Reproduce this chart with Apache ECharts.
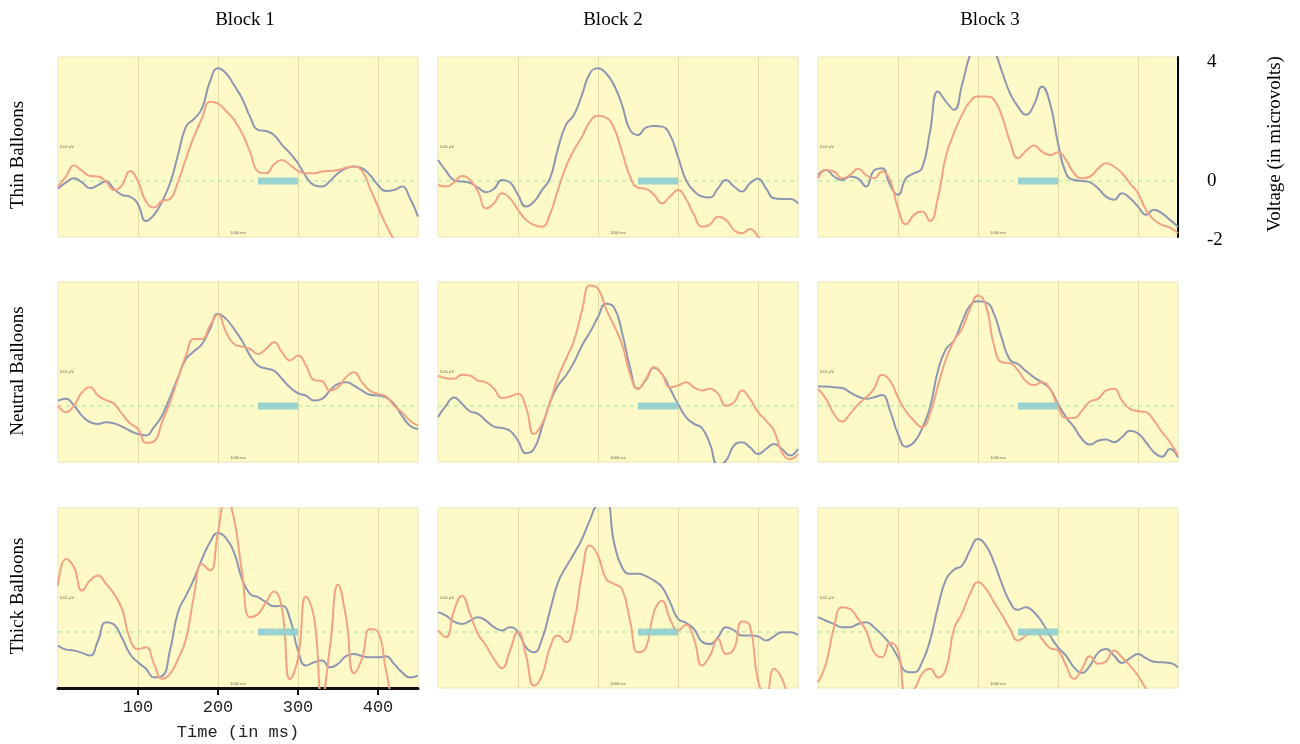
<!DOCTYPE html>
<html>
<head>
<meta charset="utf-8">
<script src="https://cdn.jsdelivr.net/npm/echarts@6/dist/echarts.min.js"></script>
<style>
  html, body { margin: 0; padding: 0; background: #ffffff; }
  #chart { width: 1300px; height: 744px; }
</style>
</head>
<body>
<div id="chart"></div>
<script>
// ---- data -----------------------------------------------------------------
const TIME_MS = [0,10,20,30,40,50,60,70,80,90,100,110,120,130,140,150,160,170,180,190,
                 200,210,220,230,240,250,260,270,280,290,300,310,320,330,340,350,360,370,380,390,
                 400,410,420,430,440,450];
const BLOCKS = ['Block 1', 'Block 2', 'Block 3'];
const CONDITIONS = ['Thin Balloons', 'Neutral Balloons', 'Thick Balloons'];
const X_TICKS = [100, 200, 300, 400];
const VOLT_TICKS = [4, 0, -2];
const TIME_RANGE = [0, 450];
const BASELINE_UV = 0;
const WINDOW_MS = [250, 300];
const SCALE_NOTE = '5.00 µV';
const TIME_NOTE = '1000 ms';

// waveforms, microvolts, sampled every 10 ms
const thin1Gray = [-0.27,-0.05,0.09,-0.05,-0.25,-0.14,-0.02,-0.27,-0.47,-0.53,-0.79,-1.36,-1.15,-0.70,-0.08,0.88,1.84,2.10,2.46,3.37,3.82,3.65,3.25,2.80,2.18,1.73,1.69,1.56,1.22,0.94,0.60,0.15,-0.14,-0.19,0.00,0.26,0.43,0.49,0.43,0.20,-0.14,-0.34,-0.31,-0.19,-0.59,-1.21];
const thin1Red  = [-0.19,0.15,0.52,0.34,0.17,0.15,-0.02,-0.31,-0.14,0.34,-0.02,-0.70,-0.90,-0.68,-0.61,-0.03,0.76,1.51,2.12,2.68,2.62,2.37,2.07,1.62,0.99,0.32,0.26,0.56,0.71,0.54,0.34,0.26,0.26,0.32,0.34,0.37,0.45,0.49,0.34,-0.25,-0.87,-1.49,-2.00,-2.50,-3.00,-3.50];
const thin2Gray = [0.71,0.34,0.03,-0.02,-0.06,-0.23,-0.38,-0.27,0.03,-0.05,-0.47,-0.87,-0.70,-0.31,0.09,1.10,1.90,2.24,2.92,3.65,3.82,3.65,3.25,2.58,1.73,1.56,1.81,1.86,1.84,1.56,0.82,0.03,-0.34,-0.53,-0.56,-0.25,0.03,-0.19,-0.36,-0.08,0.07,-0.25,-0.59,-0.61,-0.61,-0.76];
const thin2Red  = [-0.14,-0.19,-0.05,0.17,0.03,-0.36,-0.93,-0.76,-0.42,-0.59,-0.98,-1.32,-1.49,-1.55,-1.12,-0.30,0.49,1.05,1.50,2.01,2.21,2.15,1.79,0.99,0.15,-0.23,-0.27,-0.47,-0.76,-0.53,-0.31,-0.61,-1.15,-1.55,-1.47,-1.21,-1.32,-1.66,-1.77,-1.63,-1.89,-2.30,-2.80,-3.20,-3.50,-3.70];
const thin3Gray = [0.20,0.37,0.15,0.03,0.15,0.09,-0.19,0.35,0.43,-0.14,-0.47,0.09,0.26,0.43,1.67,3.03,2.69,2.41,3.25,4.27,4.80,4.60,4.40,3.70,2.97,2.52,2.24,2.58,3.20,2.63,1.28,0.26,0.03,0.00,-0.05,-0.25,-0.53,-0.64,-0.42,-0.59,-0.87,-1.15,-0.98,-1.10,-1.32,-1.55];
const thin3Red  = [0.09,0.37,0.32,0.09,0.20,0.41,0.20,0.09,0.32,0.03,-0.93,-1.47,-1.15,-1.04,-1.36,-0.55,0.85,1.62,2.24,2.69,2.86,2.86,2.75,2.18,1.33,0.77,1.02,1.20,0.99,0.88,0.97,0.71,0.26,0.09,0.15,0.41,0.60,0.49,0.26,-0.08,-0.42,-0.98,-1.32,-1.49,-1.58,-1.77];

const neutral1Gray = [0.18,0.24,0.01,-0.33,-0.55,-0.61,-0.55,-0.59,-0.70,-0.84,-0.95,-1.00,-0.72,-0.33,0.29,0.97,1.59,1.85,2.10,2.61,3.12,2.95,2.61,2.21,1.71,1.37,1.27,1.20,0.92,0.63,0.43,0.35,0.18,0.24,0.52,0.75,0.80,0.69,0.52,0.38,0.35,0.29,0.07,-0.33,-0.67,-0.78];
const neutral1Red  = [0.01,-0.21,0.01,0.46,0.63,0.35,0.20,0.07,-0.27,-0.59,-0.78,-1.25,-1.20,-0.55,0.12,0.92,1.71,2.27,2.27,2.72,3.10,2.50,2.10,2.01,1.93,1.76,1.93,2.16,1.82,1.54,1.71,1.37,0.88,0.84,0.52,0.63,0.97,1.14,0.80,0.52,0.41,0.32,0.01,-0.21,-0.50,-0.67];
const neutral2Gray = [-0.38,0.01,0.29,0.07,-0.18,-0.27,-0.50,-0.70,-0.75,-0.84,-1.18,-1.60,-1.46,-0.72,0.12,0.69,1.03,1.48,2.05,2.50,3.01,3.46,3.34,2.50,1.31,0.58,0.88,1.29,1.08,0.58,0.07,-0.38,-0.61,-0.75,-1.29,-2.00,-1.85,-1.34,-1.23,-1.40,-1.63,-1.46,-1.29,-1.46,-1.68,-1.46];
const neutral2Red  = [1.03,0.94,0.92,1.06,1.03,0.86,0.80,0.58,0.27,0.32,0.41,-0.05,-0.95,-0.61,0.12,0.97,1.59,2.21,3.23,4.08,3.97,3.29,2.72,2.10,1.08,0.58,0.92,1.31,1.08,0.63,0.69,0.80,0.63,0.52,0.58,0.41,0.01,0.12,0.52,0.24,-0.21,-0.50,-0.84,-1.57,-1.80,-1.63];
const neutral3Gray = [0.66,0.66,0.63,0.61,0.46,0.32,0.24,0.29,0.37,-0.16,-0.95,-1.38,-1.23,-0.78,-0.05,1.20,1.93,2.21,2.84,3.40,3.55,3.51,3.12,2.27,1.56,1.42,1.18,0.97,0.80,0.58,0.07,-0.38,-0.72,-1.12,-1.31,-1.18,-1.14,-1.23,-1.06,-0.84,-0.93,-1.23,-1.57,-1.72,-1.46,-1.74];
const neutral3Red  = [0.58,0.24,-0.27,-0.53,-0.27,0.05,0.29,0.58,1.06,0.86,0.29,-0.18,-0.50,-0.72,-0.27,0.69,1.59,2.21,2.61,3.29,3.74,3.40,2.05,1.48,1.45,1.20,0.84,0.71,0.80,0.58,-0.02,-0.41,-0.41,-0.16,0.15,0.24,0.52,0.58,0.18,-0.10,-0.18,-0.21,-0.50,-0.89,-1.23,-1.68];

const thick1Gray = [-0.46,-0.60,-0.63,-0.71,-0.80,-0.30,0.33,0.25,-0.20,-0.75,-1.03,-1.25,-1.54,-1.50,-0.63,0.67,1.23,1.80,2.47,3.04,3.35,3.18,2.70,1.80,1.29,1.18,1.01,0.87,0.89,0.44,-0.63,-1.14,-1.03,-0.97,-1.20,-1.08,-0.82,-0.75,-0.82,-0.86,-0.86,-0.82,-1.08,-1.37,-1.54,-1.48];
const thick1Red  = [1.57,2.47,2.19,1.40,1.74,1.91,1.63,1.29,0.78,-0.24,-0.58,-0.52,-1.08,-1.59,-1.42,-0.92,-0.24,1.23,2.30,2.08,3.38,4.62,3.83,2.02,0.50,0.61,1.01,1.37,0.78,-1.60,-0.90,1.20,0.50,-2.20,-0.50,1.60,0.50,-1.40,-0.90,0.10,0.00,-1.30,-2.50,-3.00,-3.20,-3.20];
const thick2Gray = [0.67,0.55,0.35,0.27,0.38,0.50,0.38,0.16,0.05,0.16,-0.01,-0.52,-0.69,-0.24,0.72,1.68,2.20,2.65,3.15,3.80,4.33,4.40,3.04,2.19,1.97,1.97,1.89,1.74,1.52,1.01,0.44,0.31,0.10,-0.33,-0.41,-0.18,0.16,0.05,-0.12,-0.12,-0.15,-0.29,-0.15,-0.01,-0.01,-0.10];
const thick2Red  = [0.05,-0.18,0.72,1.23,0.61,-0.07,-0.46,-0.92,-1.23,-0.63,0.01,-0.80,-1.82,-1.48,-0.52,-0.12,-0.35,0.33,1.97,2.93,2.59,1.80,1.63,1.46,0.38,-0.69,-0.52,0.67,1.06,0.44,0.05,0.24,-0.24,-1.14,-0.80,-0.24,-0.75,-0.58,0.35,0.20,-1.65,-2.16,-1.25,-1.59,-2.40,-2.80];
const thick3Gray = [0.50,0.38,0.27,0.16,0.16,0.27,0.33,0.16,-0.10,-0.41,-0.86,-1.34,-1.37,-1.03,-0.29,0.85,1.78,2.11,2.25,2.76,3.15,2.93,2.36,1.63,1.01,0.75,0.84,0.67,0.33,-0.12,-0.52,-0.80,-1.20,-1.39,-1.14,-0.71,-0.58,-0.80,-1.05,-0.89,-0.75,-0.89,-1.01,-1.03,-1.05,-1.20];
const thick3Red  = [-1.71,-1.08,0.16,0.84,0.78,0.44,0.05,-0.69,-0.86,-0.37,-0.63,-2.05,-1.94,-1.42,-1.25,-1.54,-1.25,0.10,0.63,1.29,1.68,1.46,1.01,0.58,0.10,-0.29,-0.12,0.08,-0.24,-0.55,-0.63,-1.14,-1.59,-1.25,-0.82,-1.08,-1.00,-0.63,-0.86,-1.14,-1.48,-1.93,-2.30,-2.60,-2.80,-3.00];

// rows = conditions, columns = blocks
const GRAY_WAVES = [[thin1Gray, thin2Gray, thin3Gray],
                    [neutral1Gray, neutral2Gray, neutral3Gray],
                    [thick1Gray, thick2Gray, thick3Gray]];
const RED_WAVES  = [[thin1Red, thin2Red, thin3Red],
                    [neutral1Red, neutral2Red, neutral3Red],
                    [thick1Red, thick2Red, thick3Red]];

// ---- layout & style -------------------------------------------------------
const PANEL_LEFT = [58, 438, 818];
const PANEL_TOP = [57, 282, 508];
const PANEL_W = 360, PANEL_H = 180;
const Y_MIN = -1.9, Y_MAX = 4.2;

const BG = '#fefac8';
const GRID_LINE = '#e2dba8';
const GRAY_COLOR = '#8e97b2';
const RED_COLOR = '#f3a283';
const ZERO_COLOR = '#bdecb4';
const WINDOW_COLOR = '#8fcdd0';
const SERIF = '"Liberation Serif", "Times New Roman", serif';
const MONO = '"Liberation Mono", "Courier New", monospace';

const grids = [], xAxes = [], yAxes = [], series = [], graphics = [];
const pair = arr => TIME_MS.map((t, k) => [t, arr[k]]);

for (let r = 0; r < 3; r++) {
  for (let c = 0; c < 3; c++) {
    const i = r * 3 + c;
    const isTimeAxis = (r === 2 && c === 0);
    const isVoltAxis = (r === 0 && c === 2);
    grids.push({
      left: PANEL_LEFT[c], top: PANEL_TOP[r], width: PANEL_W, height: PANEL_H,
      show: true, backgroundColor: BG, borderColor: '#ebe5b5', borderWidth: 1
    });
    xAxes.push({
      gridIndex: i, type: 'value', min: TIME_RANGE[0], max: TIME_RANGE[1], interval: 100,
      axisLine: { show: isTimeAxis, onZero: false, lineStyle: { color: '#111', width: 3 } },
      axisTick: { show: isTimeAxis, customValues: X_TICKS, length: 7, lineStyle: { color: '#111', width: 2 } },
      axisLabel: { show: isTimeAxis, customValues: X_TICKS, margin: 11, color: '#222',
                   fontFamily: MONO, fontSize: 17 },
      splitLine: { show: true, showMinLine: true, showMaxLine: true,
                   lineStyle: { color: GRID_LINE, width: 1 } },
      name: isTimeAxis ? 'Time (in ms)' : '',
      nameLocation: 'middle', nameGap: 36,
      nameTextStyle: { color: '#222', fontFamily: MONO, fontSize: 17 }
    });
    yAxes.push({
      gridIndex: i, type: 'value', min: Y_MIN, max: Y_MAX, position: 'right',
      show: isVoltAxis,
      axisLine: { show: true, onZero: false, lineStyle: { color: '#000', width: 2 } },
      axisTick: { show: false }, axisLabel: { show: false }, splitLine: { show: false }
    });

    series.push({
      type: 'line', xAxisIndex: i, yAxisIndex: i, silent: true, symbol: 'none', z: 1,
      data: [[TIME_RANGE[0], BASELINE_UV], [TIME_RANGE[1], BASELINE_UV]],
      lineStyle: { color: ZERO_COLOR, width: 1.5, type: [4, 4] }
    });
    series.push({
      type: 'line', name: CONDITIONS[r] + ' ' + BLOCKS[c] + ' A',
      xAxisIndex: i, yAxisIndex: i, silent: true, symbol: 'none', smooth: 0.5, z: 3,
      data: pair(GRAY_WAVES[r][c]),
      lineStyle: { color: GRAY_COLOR, width: 2 }
    });
    series.push({
      type: 'line', name: CONDITIONS[r] + ' ' + BLOCKS[c] + ' B',
      xAxisIndex: i, yAxisIndex: i, silent: true, symbol: 'none', smooth: 0.5, z: 4,
      data: pair(RED_WAVES[r][c]),
      lineStyle: { color: RED_COLOR, width: 2 }
    });
    series.push({
      type: 'line', xAxisIndex: i, yAxisIndex: i, silent: true, symbol: 'none', z: 5,
      data: [[WINDOW_MS[0], BASELINE_UV], [WINDOW_MS[1], BASELINE_UV]],
      lineStyle: { color: WINDOW_COLOR, width: 7, cap: 'butt', opacity: 0.9 }
    });

    // tiny calibration notes inside each panel
    graphics.push({
      type: 'text', x: PANEL_LEFT[c] + 2, y: PANEL_TOP[r] + 90, silent: true,
      style: { text: SCALE_NOTE, font: '4px sans-serif', fill: '#6b6650',
               textVerticalAlign: 'middle', verticalAlign: 'middle' }
    });
    graphics.push({
      type: 'text', x: PANEL_LEFT[c] + 180, y: PANEL_TOP[r] + 176, silent: true,
      style: { text: TIME_NOTE, font: '4px sans-serif', fill: '#6b6650',
               textAlign: 'center', align: 'center', textVerticalAlign: 'middle', verticalAlign: 'middle' }
    });
  }
}

// voltage scale at the right of the first row
grids.push({ left: PANEL_LEFT[2], top: 62, width: PANEL_W, height: 178, show: false });
xAxes.push({ gridIndex: 9, type: 'value', min: TIME_RANGE[0], max: TIME_RANGE[1], show: false });
yAxes.push({
  gridIndex: 9, type: 'value', min: -2, max: 4, position: 'right',
  axisLine: { show: false }, axisTick: { show: false }, splitLine: { show: false },
  axisLabel: { show: true, customValues: VOLT_TICKS, margin: 29, color: '#000',
               fontFamily: SERIF, fontSize: 19 }
});

// column and row headings
const BLOCK_X = [245, 613, 990];
BLOCKS.forEach((b, c) => graphics.push({
  type: 'text', x: BLOCK_X[c], y: 20, silent: true,
  style: { text: b, font: '19px ' + SERIF, fill: '#000',
           textAlign: 'center', align: 'center', textVerticalAlign: 'middle', verticalAlign: 'middle' }
}));
const COND_Y = [155, 371, 596];
CONDITIONS.forEach((t, r) => graphics.push({
  type: 'text', x: 18, y: COND_Y[r], rotation: Math.PI / 2, silent: true,
  style: { text: t, font: '19px ' + SERIF, fill: '#000',
           textAlign: 'center', align: 'center', textVerticalAlign: 'middle', verticalAlign: 'middle' }
}));
graphics.push({
  type: 'text', x: 1275, y: 144, rotation: Math.PI / 2, silent: true,
  style: { text: 'Voltage (in microvolts)', font: '19px ' + SERIF, fill: '#000',
           textAlign: 'center', align: 'center', textVerticalAlign: 'middle', verticalAlign: 'middle' }
});

const chart = echarts.init(document.getElementById('chart'), null, { renderer: 'canvas' });
chart.setOption({
  animation: false,
  backgroundColor: '#ffffff',
  grid: grids,
  xAxis: xAxes,
  yAxis: yAxes,
  series: series,
  graphic: { elements: graphics }
});
</script>
</body>
</html>
